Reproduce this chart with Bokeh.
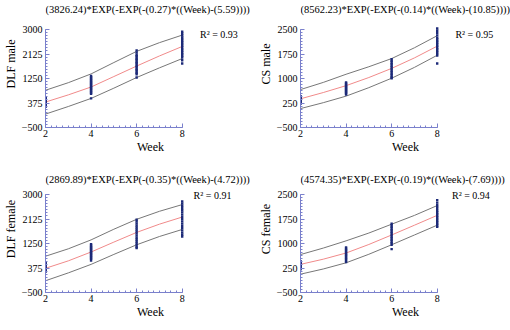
from bokeh.plotting import figure
from bokeh.layouts import gridplot
from bokeh.models import Range1d, FixedTicker, Label
from bokeh.embed import file_html
from bokeh.resources import INLINE

# ---------------- data ----------------
weeks = [2, 4, 6, 8]
curve_weeks = [2, 3, 4, 5, 6, 7, 8]

titles = [
    "(3826.24)*EXP(-EXP(-(0.27)*((Week)-(5.59))))",
    "(8562.23)*EXP(-EXP(-(0.14)*((Week)-(10.85))))",
    "(2869.89)*EXP(-EXP(-(0.35)*((Week)-(4.72))))",
    "(4574.35)*EXP(-EXP(-(0.19)*((Week)-(7.69))))",
]
ylabels = ["DLF male", "CS male", "DLF female", "CS female"]
r2_labels = ["R\u00b2 = 0.93", "R\u00b2 = 0.95", "R\u00b2 = 0.91", "R\u00b2 = 0.94"]
xlabel = "Week"
x_ticks = [2, 4, 6, 8]
y_ticks_dlf = [-500, 375, 1250, 2125, 3000]
y_ticks_cs = [-500, 250, 1000, 1750, 2500]

# observed values per week
dlf_male_w2 = [585, 560, 540, 520, 500, 480, 460, 440, 420, 400, 380, 360, 340, 320, 300, 280, 260, 235]
dlf_male_w4 = [1345, 1300, 1260, 1220, 1180, 1140, 1100, 1060, 1020, 980, 940, 900, 860, 820, 780, 740, 700, 540]
dlf_male_w6 = [2254, 2180, 2100, 2050, 2000, 1950, 1900, 1850, 1800, 1750, 1700, 1650, 1600, 1550, 1500, 1450, 1400, 1285]
dlf_male_w8 = [2920, 2850, 2780, 2720, 2660, 2600, 2540, 2480, 2420, 2360, 2300, 2240, 2180, 2120, 2060, 2000, 1900, 1785]

cs_male_w2 = [460, 440, 420, 400, 380, 360, 340, 320, 300, 280, 260, 229]
cs_male_w4 = [880, 850, 820, 790, 760, 730, 700, 670, 640, 610, 580, 550, 511]
cs_male_w6 = [1591, 1540, 1490, 1440, 1390, 1340, 1290, 1240, 1190, 1140, 1090, 1040, 1009]
cs_male_w8 = [2530, 2460, 2390, 2320, 2250, 2200, 2150, 2100, 2050, 2000, 1950, 1900, 1850, 1800, 1750, 1700, 1459]

dlf_female_w2 = [585, 550, 520, 490, 460, 430, 400, 370, 340, 310, 280, 235]
dlf_female_w4 = [1226, 1180, 1140, 1100, 1060, 1020, 980, 940, 900, 860, 820, 780, 740, 700, 645]
dlf_female_w6 = [2100, 2030, 1960, 1890, 1820, 1750, 1680, 1610, 1540, 1470, 1400, 1330, 1260, 1190, 1120, 1086]
dlf_female_w8 = [2755, 2680, 2600, 2520, 2440, 2360, 2280, 2200, 2120, 2040, 1960, 1880, 1800, 1720, 1640, 1560, 1495]

cs_female_w2 = [460, 435, 410, 385, 360, 335, 310, 285, 260, 235, 211]
cs_female_w4 = [880, 840, 800, 760, 720, 680, 640, 600, 560, 520, 480, 430]
cs_female_w6 = [1609, 1560, 1510, 1460, 1410, 1360, 1310, 1260, 1210, 1160, 1110, 1060, 1010, 960, 829]
cs_female_w8 = [2329, 2250, 2180, 2120, 2060, 2000, 1950, 1900, 1850, 1800, 1750, 1700, 1650, 1600, 1550, 1510]

# fitted curve and bands (read at weeks 2..8)
dlf_male_fit = [410, 665, 946, 1320, 1694, 2055, 2394]
dlf_male_upper = [830, 1100, 1414, 1820, 2219, 2530, 2800]
dlf_male_lower = [-21, 250, 539, 905, 1285, 1630, 1961]

cs_male_fit = [379, 570, 781, 1030, 1309, 1630, 1990]
cs_male_upper = [661, 880, 1130, 1360, 1610, 1940, 2310]
cs_male_lower = [79, 260, 460, 720, 1009, 1340, 1711]

dlf_female_fit = [364, 630, 946, 1300, 1646, 1940, 2195]
dlf_female_upper = [795, 1060, 1379, 1760, 2114, 2400, 2639]
dlf_female_lower = [-80, 200, 504, 860, 1204, 1500, 1751]

cs_female_fit = [361, 520, 709, 970, 1261, 1560, 1861]
cs_female_upper = [661, 860, 1081, 1320, 1591, 1860, 2161]
cs_female_lower = [61, 220, 409, 670, 961, 1260, 1561]

panels = [
    dict(obs=[dlf_male_w2, dlf_male_w4, dlf_male_w6, dlf_male_w8],
         fit=dlf_male_fit, up=dlf_male_upper, lo=dlf_male_lower, yt=y_ticks_dlf,
         r2x=8.78, r2dy=5, tdy=20),
    dict(obs=[cs_male_w2, cs_male_w4, cs_male_w6, cs_male_w8],
         fit=cs_male_fit, up=cs_male_upper, lo=cs_male_lower, yt=y_ticks_cs,
         r2x=8.8, r2dy=5, tdy=20),
    dict(obs=[dlf_female_w2, dlf_female_w4, dlf_female_w6, dlf_female_w8],
         fit=dlf_female_fit, up=dlf_female_upper, lo=dlf_female_lower, yt=y_ticks_dlf,
         r2x=8.5, r2dy=1, tdy=15),
    dict(obs=[cs_female_w2, cs_female_w4, cs_female_w6, cs_female_w8],
         fit=cs_female_fit, up=cs_female_upper, lo=cs_female_lower, yt=y_ticks_cs,
         r2x=8.65, r2dy=1, tdy=15),
]

FONT = "Liberation Serif"
AXIS_COLOR = "#7a80cc"
W, H = 255, 165
LEFT, TOP_PAD, BOTTOM = 43, 29, 38     # pixel layout of each panel
PX_PER_WEEK = 23.0
FRAME_H = H - TOP_PAD - BOTTOM        # height of the axis span (98 px)

figs = []
for i, pd_ in enumerate(panels):
    yt = pd_["yt"]
    ylo, yhi = yt[0], yt[-1]
    per_px = (yhi - ylo) / FRAME_H
    x_end = x_ticks[0] + (W - LEFT) / PX_PER_WEEK
    y_end = yhi + TOP_PAD * per_px
    p = figure(width=W, height=H, output_backend="svg", toolbar_location=None,
               x_range=Range1d(x_ticks[0], x_end), y_range=Range1d(ylo, y_end),
               min_border_left=LEFT, min_border_right=0, min_border_top=0,
               min_border_bottom=BOTTOM)
    p.outline_line_color = None
    p.grid.visible = False
    p.background_fill_color = "white"
    p.border_fill_color = "white"

    step_x = (x_ticks[1] - x_ticks[0]) / 8.0
    n_x = int(round((x_ticks[-1] - x_ticks[0]) / step_x))
    p.xaxis.ticker = FixedTicker(ticks=x_ticks,
                                 minor_ticks=[x_ticks[0] + k * step_x for k in range(n_x + 1)])
    step_y = (yt[1] - yt[0]) / 8.0
    n_y = int(round((yhi - ylo) / step_y))
    p.yaxis.ticker = FixedTicker(ticks=yt,
                                 minor_ticks=[ylo + k * step_y for k in range(n_y + 1)])
    p.xaxis.bounds = (x_ticks[0], x_ticks[-1])
    p.yaxis.bounds = (ylo, yhi)
    for ax in (p.xaxis, p.yaxis):
        ax.axis_line_color = AXIS_COLOR
        ax.major_tick_line_color = AXIS_COLOR
        ax.minor_tick_line_color = AXIS_COLOR
        ax.major_tick_in = 4
        ax.major_tick_out = 0
        ax.minor_tick_in = 2
        ax.minor_tick_out = 0
        ax.major_label_text_font = FONT
        ax.major_label_text_font_size = "10px"
        ax.major_label_text_color = "black"
        ax.axis_label_text_font = FONT
        ax.axis_label_text_font_size = "12px"
        ax.axis_label_text_font_style = "normal"
        ax.axis_label_text_color = "black"
    p.xaxis.axis_label = xlabel
    p.yaxis.axis_label = ylabels[i]
    p.xaxis.major_label_standoff = 2
    p.xaxis.axis_label_standoff = 0
    p.yaxis.major_label_standoff = 3
    p.yaxis.axis_label_standoff = 1

    # bands and fit
    p.line(curve_weeks, pd_["up"], line_color="#777777", line_width=1)
    p.line(curve_weeks, pd_["lo"], line_color="#777777", line_width=1)
    p.line(curve_weeks, pd_["fit"], line_color="#f08a8a", line_width=1)

    # observations
    xs, ys = [], []
    for w, vals in zip(weeks, pd_["obs"]):
        xs += [w] * len(vals)
        ys += vals
    p.scatter(xs, ys, marker="square", size=2.4, fill_color="#1c2a78",
              line_color=None)

    p.add_layout(Label(x=x_ticks[0], y=yhi + pd_["tdy"] * per_px, text=titles[i],
                       text_font=FONT, text_font_size="10.5px", text_align="left",
                       text_baseline="middle", text_color="black"))
    p.add_layout(Label(x=pd_["r2x"], y=yhi - pd_["r2dy"] * per_px, text=r2_labels[i],
                       text_font=FONT, text_font_size="10px", text_align="left",
                       text_baseline="middle", text_color="black"))
    figs.append(p)

grid = gridplot([[figs[0], figs[1]], [figs[2], figs[3]]], toolbar_location=None)
open("out.html", "w").write(file_html(grid, INLINE))
